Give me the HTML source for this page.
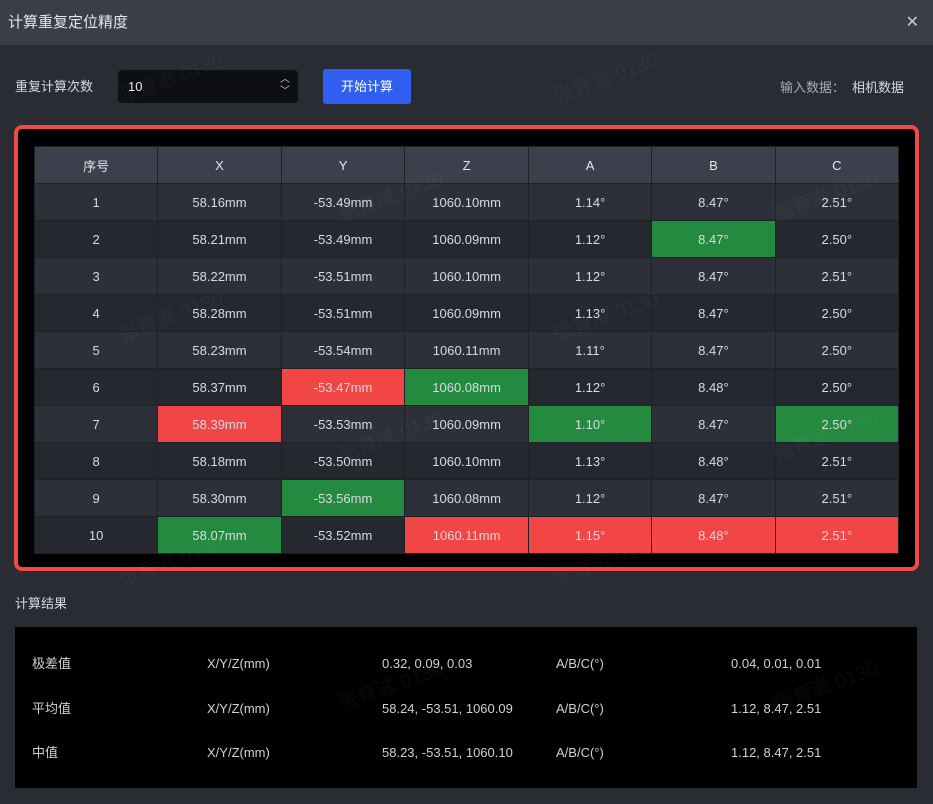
<!DOCTYPE html>
<html><head><meta charset="utf-8"><style>
*{margin:0;padding:0;box-sizing:border-box}
body{width:933px;height:804px;background:#2a2c34;font-family:"Liberation Sans","Noto Sans CJK SC",sans-serif;color:#d8dae0;position:relative;overflow:hidden}
.title{position:absolute;left:0;top:0;width:933px;height:45px;background:#3b3e49;font-size:15px;line-height:45px;padding-left:8px;color:#e4e6ea}
.close{position:absolute;right:14px;top:0;font-size:16px;color:#c8cad0}
.lbl{position:absolute;font-size:13px;line-height:16px}
.inp{position:absolute;left:118px;top:70px;width:180px;height:33px;background:#0e0f12;border-radius:4px;font-size:13px;line-height:33px;padding-left:10px;color:#e4e6ea}
.btn{position:absolute;left:323px;top:69px;width:88px;height:35px;background:#2f5ef0;border-radius:3px;font-size:13px;line-height:35px;text-align:center;color:#fff}
.box{position:absolute;left:14px;top:125px;width:905px;height:446px;border:4px solid #f24848;border-radius:8px;background:#000}
table{position:absolute;left:16px;top:17px;border-collapse:collapse;width:865px}
td,th{width:124px;height:37px;text-align:center;font-size:13px;font-weight:normal;border:1px solid #1f2127;color:#d8dae0}
th{background:#3c404c;color:#e4e6ea}
tr:nth-child(odd) td{background:#262830}
tr:nth-child(even) td{background:#2d3038}
td.g{background:#248a3f!important}
td.r{background:#f24545!important}
.res{position:absolute;left:15px;top:627px;width:902px;height:161px;background:#000}
.res div{position:absolute;font-size:13px;line-height:16px;color:#cfd1d6}
.wm{position:absolute;font-size:20px;color:rgba(255,255,255,0.035);transform:rotate(-20deg);white-space:nowrap}
</style></head><body>
<div class="title">计算重复定位精度<span class="close">✕</span></div>
<div class="lbl" style="left:15px;top:79px">重复计算次数</div>
<div class="inp">10<span style="position:absolute;right:8px;top:-2px;font-size:10px;line-height:12px;padding-top:6px;color:#ccc">︿<br>﹀</span></div>
<div class="btn">开始计算</div>
<div class="lbl" style="left:780px;top:80px;color:#a8aab0">输入数据：</div>
<div class="lbl" style="left:852px;top:80px">相机数据</div>
<div class="box"><table>
<tr><th>序号</th><th>X</th><th>Y</th><th>Z</th><th>A</th><th>B</th><th>C</th></tr>
<tr><td>1</td><td>58.16mm</td><td>-53.49mm</td><td>1060.10mm</td><td>1.14°</td><td>8.47°</td><td>2.51°</td></tr>
<tr><td>2</td><td>58.21mm</td><td>-53.49mm</td><td>1060.09mm</td><td>1.12°</td><td class="g">8.47°</td><td>2.50°</td></tr>
<tr><td>3</td><td>58.22mm</td><td>-53.51mm</td><td>1060.10mm</td><td>1.12°</td><td>8.47°</td><td>2.51°</td></tr>
<tr><td>4</td><td>58.28mm</td><td>-53.51mm</td><td>1060.09mm</td><td>1.13°</td><td>8.47°</td><td>2.50°</td></tr>
<tr><td>5</td><td>58.23mm</td><td>-53.54mm</td><td>1060.11mm</td><td>1.11°</td><td>8.47°</td><td>2.50°</td></tr>
<tr><td>6</td><td>58.37mm</td><td class="r">-53.47mm</td><td class="g">1060.08mm</td><td>1.12°</td><td>8.48°</td><td>2.50°</td></tr>
<tr><td>7</td><td class="r">58.39mm</td><td>-53.53mm</td><td>1060.09mm</td><td class="g">1.10°</td><td>8.47°</td><td class="g">2.50°</td></tr>
<tr><td>8</td><td>58.18mm</td><td>-53.50mm</td><td>1060.10mm</td><td>1.13°</td><td>8.48°</td><td>2.51°</td></tr>
<tr><td>9</td><td>58.30mm</td><td class="g">-53.56mm</td><td>1060.08mm</td><td>1.12°</td><td>8.47°</td><td>2.51°</td></tr>
<tr><td>10</td><td class="g">58.07mm</td><td>-53.52mm</td><td class="r">1060.11mm</td><td class="r">1.15°</td><td class="r">8.48°</td><td class="r">2.51°</td></tr>
</table></div>
<div class="lbl" style="left:15px;top:596px">计算结果</div>
<div class="res">
<div style="left:17px;top:29px">极差值</div><div style="left:192px;top:29px">X/Y/Z(mm)</div><div style="left:367px;top:29px">0.32, 0.09, 0.03</div><div style="left:541px;top:29px">A/B/C(°)</div><div style="left:716px;top:29px">0.04, 0.01, 0.01</div>
<div style="left:17px;top:74px">平均值</div><div style="left:192px;top:74px">X/Y/Z(mm)</div><div style="left:367px;top:74px">58.24, -53.51, 1060.09</div><div style="left:541px;top:74px">A/B/C(°)</div><div style="left:716px;top:74px">1.12, 8.47, 2.51</div>
<div style="left:17px;top:118px">中值</div><div style="left:192px;top:118px">X/Y/Z(mm)</div><div style="left:367px;top:118px">58.23, -53.51, 1060.10</div><div style="left:541px;top:118px">A/B/C(°)</div><div style="left:716px;top:118px">1.12, 8.47, 2.51</div>
</div>
<div class="wm" style="left:115px;top:62px">张育滋 0130</div>
<div class="wm" style="left:550px;top:62px">张育滋 0130</div>
<div class="wm" style="left:335px;top:180px">张育滋 0130</div>
<div class="wm" style="left:770px;top:180px">张育滋 0130</div>
<div class="wm" style="left:115px;top:300px">张育滋 0130</div>
<div class="wm" style="left:550px;top:300px">张育滋 0130</div>
<div class="wm" style="left:335px;top:420px">张育滋 0130</div>
<div class="wm" style="left:770px;top:420px">张育滋 0130</div>
<div class="wm" style="left:115px;top:545px">张育滋 0130</div>
<div class="wm" style="left:550px;top:545px">张育滋 0130</div>
<div class="wm" style="left:335px;top:670px">张育滋 0130</div>
<div class="wm" style="left:770px;top:670px">张育滋 0130</div>
</body></html>
